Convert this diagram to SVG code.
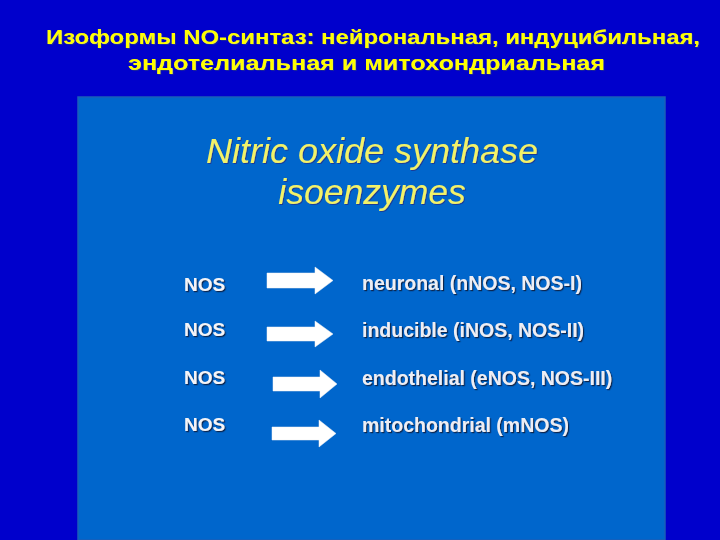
<svg xmlns="http://www.w3.org/2000/svg" width="720" height="540" viewBox="0 0 720 540">
<defs>
<filter id="sh" x="-10%" y="-30%" width="120%" height="160%">
<feDropShadow dx="1.2" dy="1.2" stdDeviation="0.6" flood-color="#0a1a40" flood-opacity="0.9"/>
</filter>
<filter id="sh2" x="-10%" y="-30%" width="120%" height="160%">
<feDropShadow dx="1" dy="1" stdDeviation="0.5" flood-color="#20308a" flood-opacity="0.8"/>
</filter>
</defs>
<style>
.title{font-family:"Liberation Sans",Arial,sans-serif;font-weight:bold;font-size:21px;fill:#FFFF00;text-anchor:middle}
.head{font-family:"Liberation Sans",Arial,sans-serif;font-style:italic;font-size:35.5px;fill:#F2F268;text-anchor:middle}
.nos{font-family:"Liberation Sans",Arial,sans-serif;font-weight:bold;font-size:19px;fill:#F4F4F8}
.lbl{font-family:"Liberation Sans",Arial,sans-serif;font-weight:bold;font-size:19.5px;fill:#EEEEF4}
.arrow{fill:#FFFFFF;stroke:#F0F0F0;stroke-width:0.5}
</style>
<rect x="0" y="0" width="720" height="540" fill="#0000CC"/>
<rect x="78" y="97" width="587" height="443" fill="#0066CC" stroke="#1A5FB8" stroke-width="1.5"/>
<g id="title" filter="url(#sh2)">
<text class="title" x="373" y="44" textLength="654" lengthAdjust="spacingAndGlyphs">Изоформы NO-синтаз: нейрональная, индуцибильная,</text>
<text class="title" x="366.5" y="70" textLength="477" lengthAdjust="spacingAndGlyphs">эндотелиальная и митохондриальная</text>
</g>
<g id="heading" filter="url(#sh2)">
<text class="head" x="372" y="163" textLength="332" lengthAdjust="spacingAndGlyphs">Nitric oxide synthase</text>
<text class="head" x="372" y="204">isoenzymes</text>
</g>
<g id="nos1" filter="url(#sh)"><text class="nos" x="184" y="290.5">NOS</text></g>
<g id="nos2" filter="url(#sh)"><text class="nos" x="184" y="336">NOS</text></g>
<g id="nos3" filter="url(#sh)"><text class="nos" x="184" y="384">NOS</text></g>
<g id="nos4" filter="url(#sh)"><text class="nos" x="184" y="431">NOS</text></g>
<g id="neuronal" filter="url(#sh)"><text class="lbl" x="362" y="290">neuronal (nNOS, NOS-I)</text></g>
<g id="inducible" filter="url(#sh)"><text class="lbl" x="362" y="337">inducible (iNOS, NOS-II)</text></g>
<g id="endothelial" filter="url(#sh)"><text class="lbl" x="362" y="385">endothelial (eNOS, NOS-III)</text></g>
<g id="mitochondrial" filter="url(#sh)"><text class="lbl" x="362" y="432">mitochondrial (mNOS)</text></g>
<g id="connectors">
<polygon class="arrow" points="267,273 315,273 315,267 333,280.5 315,294 315,288 267,288"/>
<polygon class="arrow" points="267,327 315,327 315,321 333,334 315,347 315,341 267,341"/>
<polygon class="arrow" points="273,377 320,377 320,370 337,384 320,398 320,391 273,391"/>
<polygon class="arrow" points="272,427 319,427 319,420 336,433.5 319,447 319,440 272,440"/>
</g>
</svg>
